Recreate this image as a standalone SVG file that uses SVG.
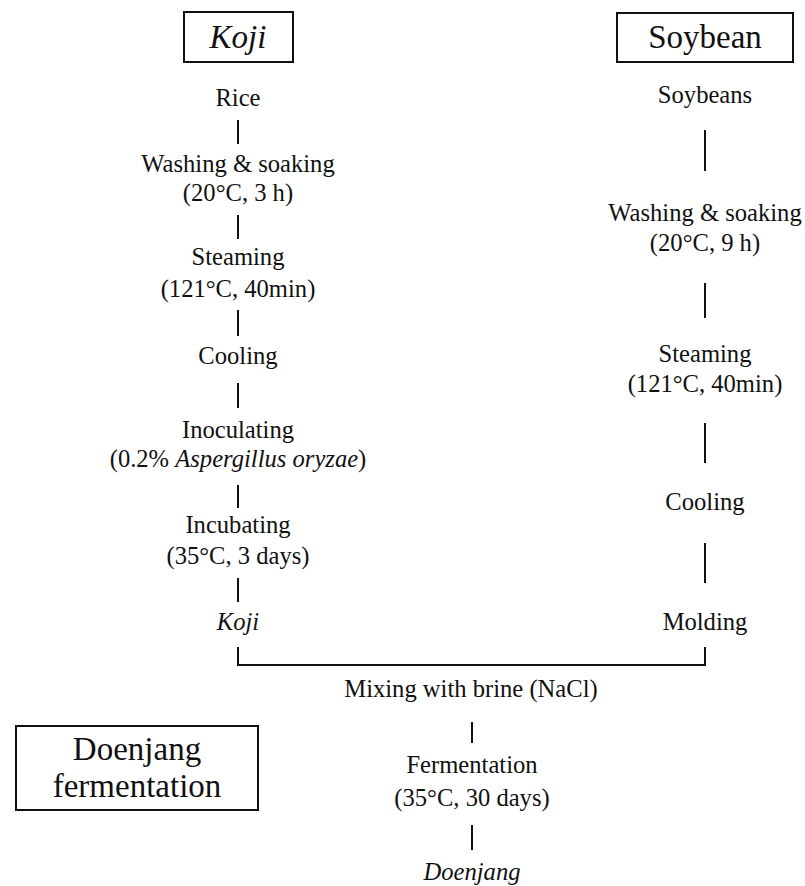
<svg xmlns="http://www.w3.org/2000/svg" width="805" height="886" viewBox="0 0 805 886">
<style>
text{font-family:"Liberation Serif","Times New Roman",serif;fill:#111;text-anchor:middle;font-size:24.6px}
.it{font-style:italic}
.big{font-size:33px}
.box{fill:#fff;stroke:#111;stroke-width:2}
.ln{stroke:#111;stroke-width:2;fill:none}
</style>
<rect width="805" height="886" fill="#fff"/>
<g id="koji-title"><rect class="box" x="184" y="12" width="109" height="50"/><text class="big it" x="238" y="48">Koji</text></g>
<g id="soybean-title"><rect class="box" x="617" y="13" width="176" height="49"/><text class="big" x="705" y="48">Soybean</text></g>
<g id="doenjang-title"><rect class="box" x="16" y="726" width="242" height="84"/><text class="big" x="137" y="760">Doenjang</text><text class="big" x="137" y="797">fermentation</text></g>
<g id="rice"><text x="238" y="106">Rice</text></g>
<g id="washing-left"><text x="238" y="172">Washing &amp; soaking</text><text x="238" y="201">(20°C, 3 h)</text></g>
<g id="steaming-left"><text x="238" y="265">Steaming</text><text x="238" y="297">(121°C, 40min)</text></g>
<g id="cooling-left"><text x="238" y="364">Cooling</text></g>
<g id="inoculating"><text x="238" y="438">Inoculating</text><text x="238" y="467">(0.2% <tspan class="it">Aspergillus oryzae</tspan>)</text></g>
<g id="incubating"><text x="238" y="533">Incubating</text><text x="238" y="564">(35°C, 3 days)</text></g>
<g id="koji"><text class="it" x="238" y="630">Koji</text></g>
<g id="soybeans"><text x="705" y="103">Soybeans</text></g>
<g id="washing-right"><text x="705" y="221">Washing &amp; soaking</text><text x="705" y="251">(20°C, 9 h)</text></g>
<g id="steaming-right"><text x="705" y="362">Steaming</text><text x="705" y="392">(121°C, 40min)</text></g>
<g id="cooling-right"><text x="705" y="510">Cooling</text></g>
<g id="molding"><text x="705" y="630">Molding</text></g>
<g id="mixing"><text x="471" y="697">Mixing with brine (NaCl)</text></g>
<g id="fermentation"><text x="472" y="773">Fermentation</text><text x="472" y="806">(35°C, 30 days)</text></g>
<g id="doenjang"><text class="it" x="472" y="880">Doenjang</text></g>
<g id="connectors">
<path class="ln" d="M238 120V144M238 215V239M238 310V336M238 383V408M238 485V508M238 578V602"/>
<path class="ln" d="M705 130V171M705 283V318M705 423V463M705 543V583"/>
<path class="ln" d="M238 647V665H705V647"/>
<path class="ln" d="M472 722V743M472 825V850"/>
</g>
</svg>
